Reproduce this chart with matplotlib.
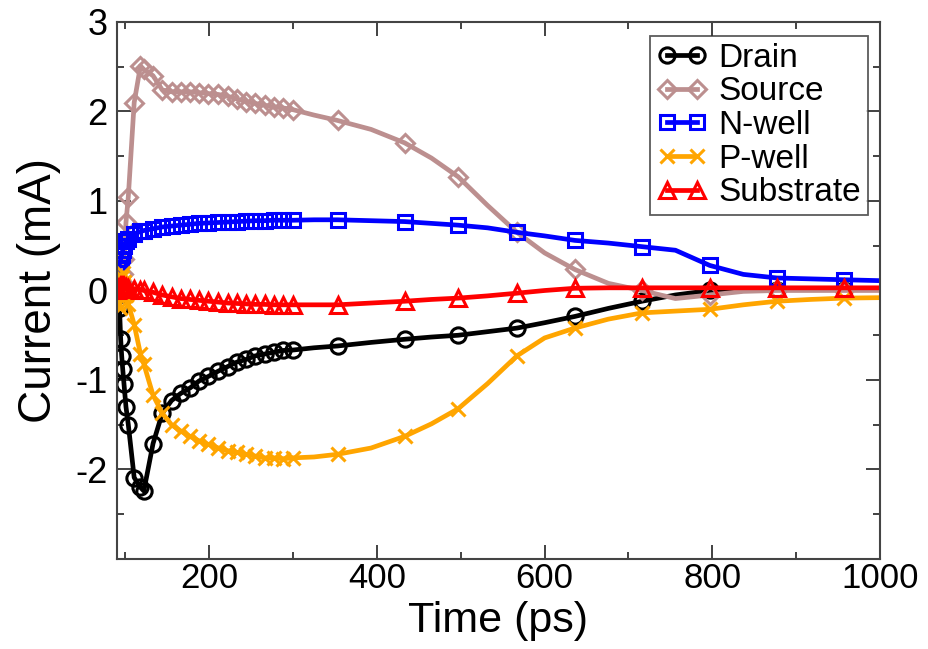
import matplotlib
matplotlib.use('Agg')
import matplotlib.pyplot as plt
from matplotlib.ticker import MultipleLocator

plt.rcParams['font.family'] = ['Liberation Sans', 'DejaVu Sans']
plt.rcParams['axes.unicode_minus'] = False

# time points (ps); markers only drawn where has_marker is True
time = [90, 91.5, 93, 94.4, 95.6, 96.8, 98.3, 100.7, 103.5, 110.5, 118, 122, 133, 144,
        155, 166, 177, 188, 199, 211, 222, 233, 244, 255, 266, 277, 288, 300,
        325, 353, 393, 433, 465, 497, 532, 567, 600, 636, 676, 716, 756, 797,
        837, 877, 917, 957, 1000, 1040]
has_marker = [True] * 28 + [False, True, False, True, False, True, False, True, False, True,
                            False, True, False, True, False, True, False, True, False, False]

drain = [0.0, -0.05, -0.2, -0.545, -0.73, -0.876, -1.04, -1.30, -1.50, -2.09, -2.2, -2.24,
         -1.71, -1.37, -1.23, -1.15, -1.09, -1.01, -0.96, -0.90, -0.85, -0.80, -0.77, -0.73,
         -0.71, -0.69, -0.67, -0.665,
         -0.64, -0.62, -0.58, -0.545, -0.52, -0.50, -0.46, -0.42, -0.36, -0.29, -0.20, -0.12,
         -0.05, 0.0, 0.01, 0.01, 0.01, 0.01, 0.01, 0.01]
source = [0.0, 0.0, 0.03, 0.06, 0.1, 0.18, 0.35, 0.76, 1.05, 2.1, 2.51, 2.47,
          2.40, 2.24, 2.22, 2.22, 2.22, 2.21, 2.20, 2.19, 2.17, 2.14, 2.11, 2.09,
          2.07, 2.05, 2.04, 2.02,
          1.96, 1.90, 1.80, 1.65, 1.48, 1.27, 0.95, 0.65, 0.42, 0.235, 0.08, 0.0,
          -0.09, -0.05, -0.01, 0.0, 0.0, 0.0, 0.0, 0.0]
nwell = [0.2, 0.25, 0.3, 0.35, 0.4, 0.45, 0.5, 0.55, 0.58, 0.63, 0.66, 0.67,
         0.69, 0.71, 0.72, 0.73, 0.74, 0.75, 0.755, 0.76, 0.765, 0.77, 0.775, 0.78,
         0.78, 0.785, 0.785, 0.785,
         0.79, 0.79, 0.78, 0.77, 0.75, 0.73, 0.70, 0.65, 0.61, 0.56, 0.53, 0.49,
         0.45, 0.28, 0.18, 0.14, 0.13, 0.12, 0.11, 0.11]
pwell = [-0.05, -0.15, -0.2, -0.05, 0.15, 0.2, 0.1, -0.05, -0.15, -0.38, -0.71, -0.82,
         -1.17, -1.37, -1.50, -1.57, -1.63, -1.68, -1.72, -1.76, -1.79, -1.81, -1.83, -1.85,
         -1.87, -1.87, -1.88, -1.87,
         -1.86, -1.83, -1.76, -1.63, -1.49, -1.32, -1.04, -0.73, -0.53, -0.42, -0.32, -0.25,
         -0.23, -0.21, -0.16, -0.12, -0.10, -0.085, -0.08, -0.08]
substrate = [0.0, 0.03, 0.05, 0.05, 0.05, 0.05, 0.05, 0.04, 0.03, 0.02, 0.01, 0.0,
             -0.02, -0.05, -0.07, -0.09, -0.10, -0.11, -0.12, -0.13, -0.14, -0.145, -0.15, -0.155,
             -0.155, -0.16, -0.16, -0.16,
             -0.16, -0.16, -0.14, -0.12, -0.10, -0.085, -0.06, -0.03, 0.0, 0.025, 0.03, 0.03,
             0.03, 0.03, 0.03, 0.03, 0.03, 0.03, 0.03, 0.03]

series = [
    ('Drain', drain, 'black', 'o', 11),
    ('Source', source, '#bc8f8f', 'D', 9),
    ('N-well', nwell, '#0000ff', 's', 10),
    ('P-well', pwell, '#ffa500', 'x', 10),
    ('Substrate', substrate, '#ff0000', '^', 11),
]

fig = plt.figure(figsize=(9.29, 6.49), dpi=100)
ax = fig.add_axes([117 / 929, 1 - 559 / 649, 763 / 929, 537 / 649])

for name, vals, col, mk, ms in series:
    ax.plot(time, vals, color=col, lw=3.4, marker=mk, markersize=ms,
            markerfacecolor='none', markeredgecolor=col, markeredgewidth=2.2,
            markevery=has_marker, label=name)

ax.set_xlim(90, 1000)
ax.set_ylim(-3, 3)
ax.set_xticks([200, 400, 600, 800, 1000])
ax.xaxis.set_minor_locator(MultipleLocator(100))
ax.set_yticks([-2, -1, 0, 1, 2, 3])
ax.yaxis.set_minor_locator(MultipleLocator(0.5))
ax.tick_params(which='both', direction='in', top=True, right=True, labelsize=26,
               color='#333333', width=1.3)
ax.tick_params(which='major', length=10, pad=7)
ax.tick_params(axis='x', which='major', pad=2, labelsize=25)
ax.tick_params(which='minor', length=5)
for s in ax.spines.values():
    s.set_color('#444444')
    s.set_linewidth(1.5)

ax.set_xlabel('Time (ps)', fontsize=31)
ax.xaxis.set_label_coords(0.5, -0.078)
ax.set_ylabel('Current (mA)', fontsize=33, labelpad=10)

leg = ax.legend(loc='upper right', bbox_to_anchor=(0.984, 0.974), numpoints=2,
                fontsize=24, frameon=True, fancybox=False, borderpad=0.2,
                labelspacing=0.08, handlelength=1.5, handletextpad=0.35, borderaxespad=0)
leg.get_frame().set_edgecolor('#333333')
leg.get_frame().set_linewidth(1.3)

fig.savefig('out.png', dpi=100)
